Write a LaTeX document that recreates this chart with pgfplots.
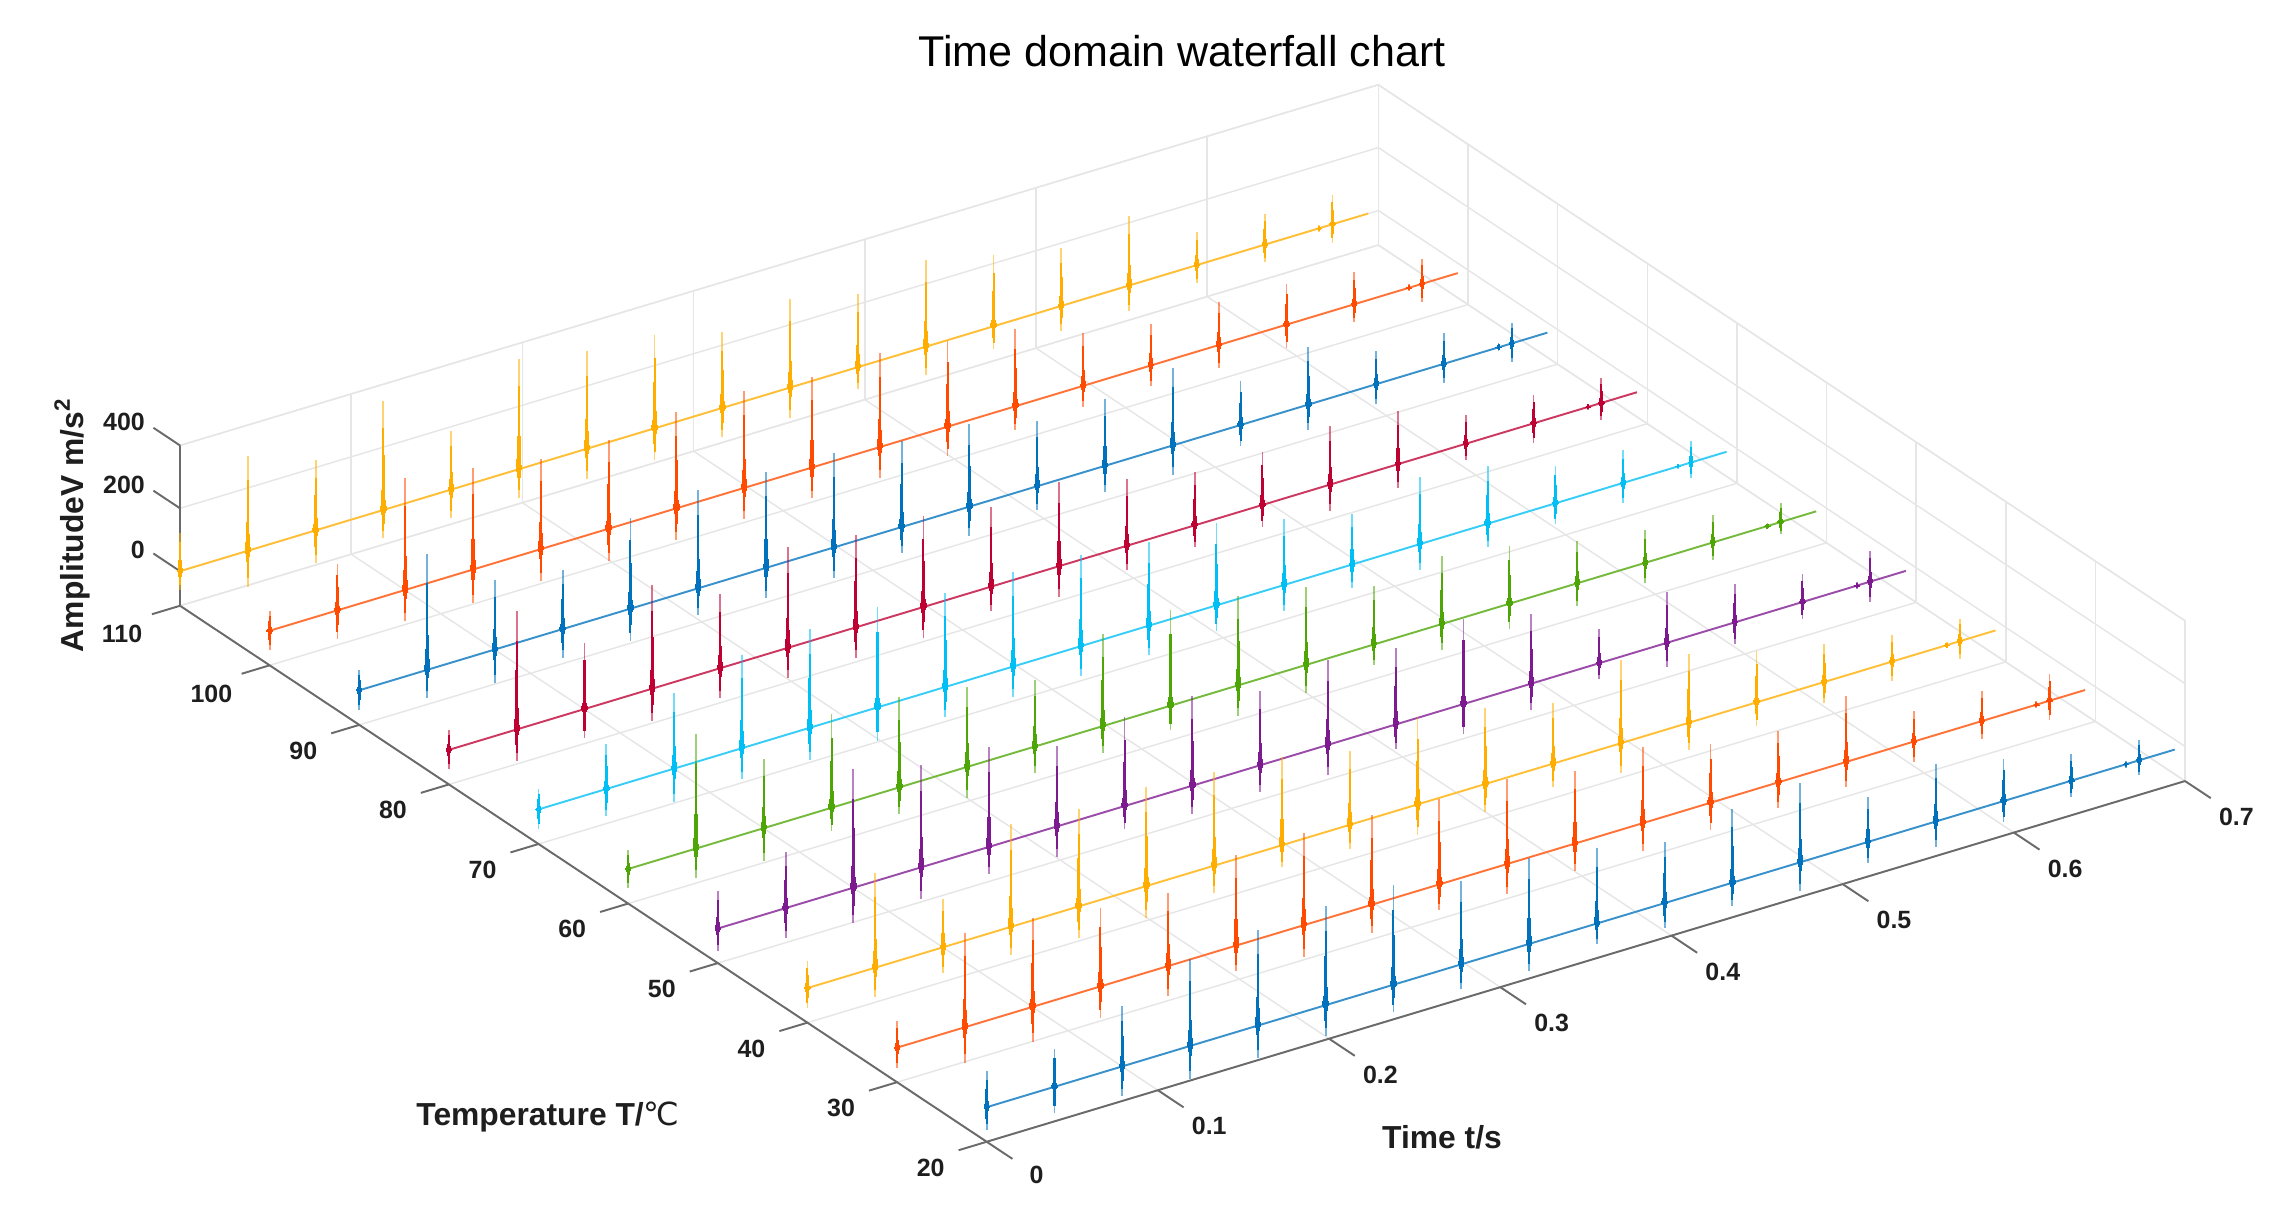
\documentclass[border=0pt]{standalone}
\usepackage{fontspec}
\setmainfont{Liberation Sans}
\newfontfamily\dejavu{DejaVu Sans}
\usepackage{pgfplots}
\usepackage{pgfplotstable}
\pgfplotsset{compat=1.18}

\definecolor{wblue}{HTML}{0072BD}
\definecolor{worange}{HTML}{FF4A00}
\definecolor{wyellow}{HTML}{FFAE00}
\definecolor{wcrimson}{HTML}{BE0032}
\definecolor{wcyan}{HTML}{00BFF5}
\definecolor{wgreen}{HTML}{4EA606}
\definecolor{wpurple}{HTML}{7D1A90}
\definecolor{gridc}{HTML}{E6E6E6}
\definecolor{axisc}{HTML}{6A6A6A}
\definecolor{textc}{HTML}{1E1E1E}

% spike top (u) and bottom (d), in pixels of the zoomed crop
\pgfplotstableread{
t      u110 d110 u100 d100 u90 d90 u80 d80 u70 d70 u60 d60 u50 d50 u40 d40 u30 d30 u20 d20
0.0000 115  55   60   57   61  60  60  58  62  58  57  56  112 66  80  60  80  62  107 68
0.0396 283  107  140  85   346 84  353 93  135 82  343 87  167 90  282 88  282 108 113 77
0.0792 210  98   335  93   208 100 197 88  225 100 207 98  355 107 143 78  265 105 180 90
0.1188 327  85   303  100  178 85  309 98  280 93  280 70  305 94  308 84  235 93  260 100
0.1584 175  85   270  95   272 97  223 90  296 97  270 80  300 82  290 95  219 91  285 97
0.1980 330  85   265  97   293 79  300 90  300 100 240 92  240 91  297 95  270 77  295 93
0.2376 292  90   288  94   287 91  275 90  282 90  200 78  265 68  281 82  275 95  298 82
0.2772 280  95   290  92   282 92  273 92  282 90  275 80  267 85  263 65  268 85  250 73
0.3168 228  88   270  92   256 77  237 73  272 90  286 72  223 79  221 72  254 78  258 80
0.3564 265  90   281  92   246 87  253 91  250 88  266 92  254 90  260 91  253 90  225 62
0.3960 220  64   256  89   196 70  200 73  246 76  232 83  230 73  227 85  216 82  182 75
0.4356 260  85   230  71   200 77  160 65  197 78  176 62  255 90  180 70  227 83  221 70
0.4752 212  68   158  62   231 87  159 65  151 70  203 77  208 79  250 90  175 80  237 85
0.5148 172  74   123  62   131 62  175 78  200 76  173 75  103 47  205 82  155 78  133 64
0.5544 207  77   129  70   172 75  158 72  172 70  126 69  151 72  155 71  197 76  173 75
0.5940 100  55   122  70   100 60  87  50  112 62  97  60  115 65  113 63  90  60  125 63
0.6336 93   52   95   53   92  58  85  60  97  60  83  52  85  50  80  57  91  53  79  50
0.6655 10   10   10   10   12  12  10  10  8   8   10  10  10  10  10  10  10  10  10  10
0.6732 87   56   75   55   60  57  74  52  63  47  58  37  93  62  67  53  80  58  62  45
}\wave

\newcommand\ampf{1.064}
% one stroke set for every spike of a series: #1 temperature, #2 colour, #3 share of the height, #4 width, #5 opacity
\newcommand\wavelayer[5]{
  \addplot3[forget plot, draw=none, mark=none,
    error bars/.cd, z dir=both, z explicit, error mark=none,
    error bar style={draw=#2, line width=#4, opacity=#5}]
    table[x=t, y expr=#1, z expr=0,
      z error plus expr=#3*\ampf*\thisrow{u#1},
      z error minus expr=#3*\ampf*\thisrow{d#1}] {\wave};
}
\newcommand\waveseries[2]{
  \addplot3[forget plot, #2!78!white, line width=0.55pt, mark=none]
    coordinates {(0,#1,0) (0.694,#1,0)};
  \wavelayer{#1}{#2}{1}{0.52pt}{0.55}
  \wavelayer{#1}{#2}{0.75}{0.58pt}{1}
  \wavelayer{#1}{#2}{0.5}{0.7pt}{1}
  \wavelayer{#1}{#2}{0.3}{0.88pt}{1}
  \wavelayer{#1}{#2}{0.18}{1.12pt}{1}
  \wavelayer{#1}{#2}{0.09}{1.42pt}{1}
  \wavelayer{#1}{#2}{0.04}{1.8pt}{1}
}

\begin{document}
\begin{tikzpicture}
\path[use as bounding box] (0,0) rectangle (22.72,12.25);
\begin{axis}[
  at={(9.867cm,1.178cm)}, anchor=origin,
  x={(17.119cm,5.153cm)}, y={(-0.08963cm,0.05956cm)}, z={(0cm,0.003137cm)},
  xmin=0, xmax=0.7, ymin=20, ymax=110, zmin=-110, zmax=400,
  clip=false,
  axis line style={draw=none},
  grid=major,
  grid style={gridc, line width=0.42pt},
  xtick={0,0.1,0.2,0.3,0.4,0.5,0.6,0.7},
  xticklabels={0,0.1,0.2,0.3,0.4,0.5,0.6,0.7},
  ytick={20,30,40,50,60,70,80,90,100,110},
  yticklabels={20,30,40,50,60,70,80,90,100,110},
  ztick={0,200,400},
  zticklabels={0,200,400},
  tickpos=left,
  tick align=outside,
  major tick length=0.31cm,
  tick style={draw=none},
  tick label style={font=\bfseries\fontsize{7.1}{8.5}\selectfont, text=textc},
  xticklabel style={xshift=0.116cm, yshift=0.07cm},
  yticklabel style={xshift=-0.07cm, yshift=0.09cm},
  zticklabel style={xshift=0.03cm, yshift=0.01cm},
]
  % box edges
  \draw[gridc, line width=0.42pt] (axis cs:0,110,400) -- (axis cs:0.7,110,400) -- (axis cs:0.7,20,400) -- (axis cs:0.7,20,-110) -- (axis cs:0.7,110,-110) -- (axis cs:0,110,-110);
  \draw[gridc, line width=0.42pt] (axis cs:0.7,110,400) -- (axis cs:0.7,110,-110);
  \draw[axisc, line width=0.55pt] (axis cs:0,110,400) -- (axis cs:0,110,-110) -- (axis cs:0,20,-110) -- (axis cs:0.7,20,-110);

  % tick marks lie along the floor and the back wall, as in MATLAB
  \pgfplotsinvokeforeach{0,0.1,0.2,0.3,0.4,0.5,0.6,0.7}{
    \draw[axisc, line width=0.55pt] (axis cs:#1,20,-110) -- (axis cs:#1,17.13,-110);
  }
  \pgfplotsinvokeforeach{20,30,40,50,60,70,80,90,100,110}{
    \draw[axisc, line width=0.55pt] (axis cs:0,#1,-110) -- (axis cs:-0.0164,#1,-110);
  }
  \pgfplotsinvokeforeach{0,200,400}{
    \draw[axisc, line width=0.55pt] (axis cs:0,110,#1) -- (axis cs:0,112.97,#1);
  }

  \waveseries{110}{wyellow}
  \waveseries{100}{worange}
  \waveseries{90}{wblue}
  \waveseries{80}{wcrimson}
  \waveseries{70}{wcyan}
  \waveseries{60}{wgreen}
  \waveseries{50}{wpurple}
  \waveseries{40}{wyellow}
  \waveseries{30}{worange}
  \waveseries{20}{wblue}
\end{axis}
\node[text=black, font=\fontsize{12.25}{14}\selectfont] at (11.82,11.743) {Time domain waterfall chart};
\node[text=textc, font=\bfseries\fontsize{9.05}{11}\selectfont] at (14.42,0.88) {Time t/s};
\node[text=textc, font=\bfseries\fontsize{9.05}{11}\selectfont] at (5.48,1.08) {Temperature T/{\dejavu\mdseries ℃}};
\node[text=textc, font=\bfseries\fontsize{9.05}{11}\selectfont, rotate=90] at (0.72,7.0) {AmplitudeV m/s$^{\mathbf{2}}$};
\end{tikzpicture}
\end{document}
